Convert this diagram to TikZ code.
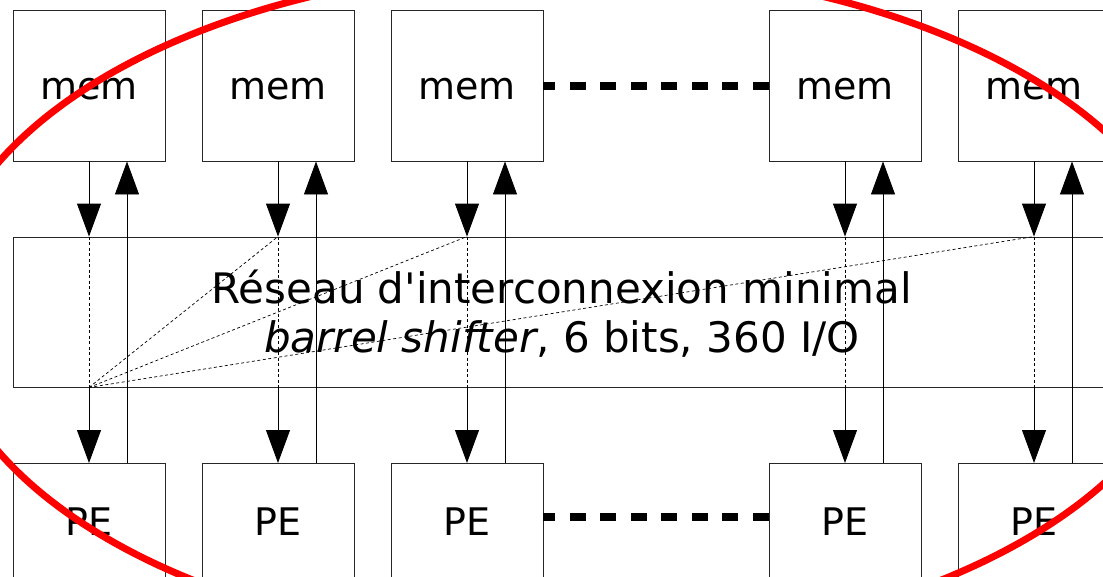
\documentclass[tikz,border=0pt]{standalone}
\usepackage{fontspec}
\setmainfont{DejaVu Sans}
\usetikzlibrary{arrows.meta,calc}
\begin{document}
\begin{tikzpicture}[x=1pt,y=-1pt,
  txt/.style={font=\fontsize{42}{50}\selectfont},
  smalltxt/.style={font=\fontsize{38}{46}\selectfont},
  box/.style={draw=black!85, line width=0.9pt, minimum width=152pt, minimum height=151pt, inner sep=0pt},
  lbl/.style={inner sep=0pt, anchor=base, txt},
  blbl/.style={inner sep=0pt, anchor=base, smalltxt},
  arr/.style={line width=0.9pt, -{Triangle[length=33pt,width=24pt]}},
  fine/.style={line width=0.7pt, dash pattern=on 3pt off 2.5pt},
  bigdash/.style={line width=8pt, dash pattern=on 16pt off 14.5pt},
  halo/.style={draw=red, line width=7pt}]
\useasboundingbox (0,0) rectangle (1103,576);
\clip (0,0) rectangle (1103,576);

% network box
\node[box, minimum width=1097pt, minimum height=150pt] (net) at (561.5,312) {};
\node[lbl] (t1) at (561.5,303) {Réseau d\textquotesingle interconnexion minimal};
\node[lbl] (t2) at (562,352) {\textit{barrel shifter}, 6 bits, 360 I/O};

\foreach \i/\x in {1/89,2/278,3/467,4/845,5/1034}{
  \node[box] (m\i) at (\x,85.5) {};
  \node[blbl] (m\i t) at (\x,99) {mem};
  \node[box, anchor=north] (p\i) at (\x,463) {};
  \node[blbl] (p\i t) at (\x,535) {PE};
  \draw[arr] (m\i.south) -- (m\i.south |- net.north);
  \draw[fine] (m\i.south |- net.north) -- (m\i.south |- net.south);
  \draw[arr] (m\i.south |- net.south) -- (p\i.north);
  \draw[arr] ([xshift=38pt]p\i.north) -- ([xshift=38pt]m\i.south);
}

% diagonals inside the network
\foreach \j in {2,3,5}{
  \draw[fine] (m1.south |- net.south) -- (m\j.south |- net.north);
}

% thick dashed ellipsis lines
\coordinate (pr) at (0,517);
\draw[bigdash] (m4.west) -- (m3.east);
\draw[bigdash] (pr -| p4.west) -- (pr -| p3.east);

% red ellipse
\draw[halo] (567,307) ellipse [x radius=628pt, y radius=340pt];
\end{tikzpicture}
\end{document}
